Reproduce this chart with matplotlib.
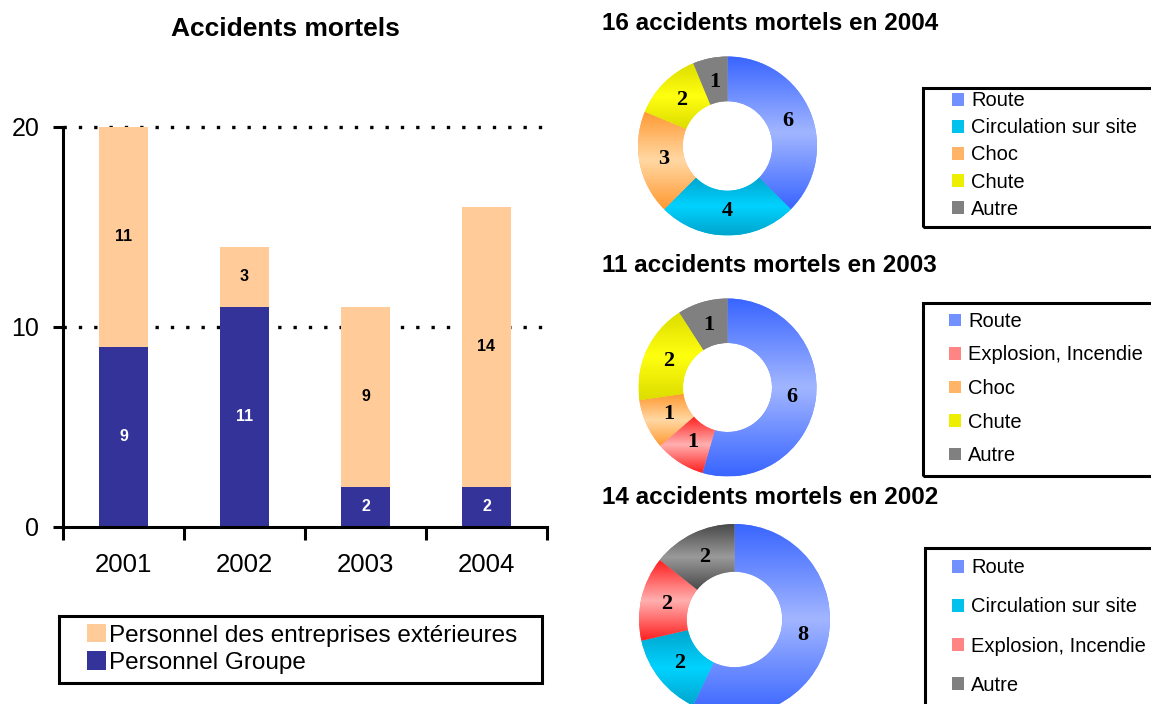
import numpy as np
import matplotlib
matplotlib.use("Agg")
import matplotlib.pyplot as plt
from matplotlib.patches import Rectangle
from matplotlib.colors import LinearSegmentedColormap

plt.rcParams.update({
    "font.family": "Liberation Sans",
})

W, H = 1151, 704

# Bar chart data
years = ["2001", "2002", "2003", "2004"]
groupe = [9, 11, 2, 2]
exterieur = [11, 3, 9, 14]
bar_names = ["Personnel des entreprises extérieures", "Personnel Groupe"]

# Donut data (clockwise from the top)
cat_2004 = ["Route", "Circulation sur site", "Choc", "Chute", "Autre"]
val_2004 = [6, 4, 3, 2, 1]
cat_2003 = ["Route", "Explosion, Incendie", "Choc", "Chute", "Autre"]
val_2003 = [6, 1, 1, 2, 1]
cat_2002 = ["Route", "Circulation sur site", "Explosion, Incendie", "Autre"]
val_2002 = [8, 2, 2, 2]

colors = {
    "Route": "#7390FF",
    "Circulation sur site": "#00C2EC",
    "Choc": "#FFB468",
    "Chute": "#EEEE00",
    "Autre": "#808080",
    "Explosion, Incendie": "#FF8585",
}
# (edge, middle) colours of the vertical gradient in each slice
gradients = {
    "Route": ("#3A66FF", "#A2B6FF"),
    "Circulation sur site": ("#00A6CE", "#00D2FF"),
    "Choc": ("#FF9A33", "#FFD8A4"),
    "Chute": ("#DDDD00", "#FFFF10"),
    "Autre": ("#808080", "#808080"),
    "Explosion, Incendie": ("#FF2020", "#FFB0B0"),
}


def fx(x):
    return x / W


def fy(y):
    return 1 - y / H


fig = plt.figure(figsize=(W / 100, H / 100), dpi=100)

# ---- stacked bars ----
ax = fig.add_axes([fx(63), fy(527), 484 / W, 400 / H])
x = np.arange(len(years))
b_grp = ax.bar(x, groupe, width=0.41, color="#333399", zorder=2)
b_ext = ax.bar(x, exterieur, bottom=groupe, width=0.41, color="#FFCC99", zorder=2)
ax.bar_label(b_grp, label_type="center", color="white", fontweight="bold", fontsize=11.5)
ax.bar_label(b_ext, label_type="center", color="black", fontweight="bold", fontsize=11.5)

ax.set_xlim(-0.5, 3.5)
ax.set_ylim(0, 20)
for s in ("top", "right"):
    ax.spines[s].set_visible(False)
for s in ("left", "bottom"):
    ax.spines[s].set_linewidth(2.2)

ax.set_yticks([0, 10, 20])
ax.tick_params(axis="y", direction="out", length=7, width=2.2, labelsize=18, pad=10)
ax.set_xticks(np.arange(-0.5, 4, 1))
ax.set_xticklabels([])
ax.tick_params(axis="x", which="major", direction="out", length=9, width=2.2)
ax.set_xticks(x, minor=True)
ax.set_xticklabels(years, minor=True)
ax.tick_params(axis="x", which="minor", length=0, labelsize=18.5, pad=19)

ax.set_axisbelow(True)
ax.yaxis.grid(True, linestyle=(0, (1, 3.6)), color="black", linewidth=2.4)
gls = ax.get_ygridlines()
gls[0].set_visible(False)
for gl in gls:
    gl.set_clip_on(False)

fig.text(fx(285.5), fy(29), "Accidents mortels", ha="center", va="center",
         fontsize=19, fontweight="bold")

fig.legend([b_ext, b_grp], bar_names, loc="center left",
           bbox_to_anchor=(fx(87), fy(649)), frameon=False, fontsize=17.5,
           handlelength=0.78, handleheight=0.78, handletextpad=0.12,
           labelspacing=0.2, borderpad=0, borderaxespad=0)
fig.add_artist(Rectangle((fx(59), fy(683)), 483 / W, 67 / H, transform=fig.transFigure,
                         fill=False, lw=2.2, ec="black"))


# ---- donuts ----
def donut(cx, cy, r, cats, vals, title, title_y, leg_x, leg_y, spacing, box, override=None):
    grads = dict(gradients)
    if override:
        grads.update(override)
    m = 1.03
    a = fig.add_axes([fx(cx - m * r), fy(cy + m * r), 2 * m * r / W, 2 * m * r / H])
    wedges, _ = a.pie(vals, colors=[colors[c] for c in cats], startangle=90,
                      counterclock=False, wedgeprops=dict(width=0.5, edgecolor="none"))
    ramp = np.linspace(0, 1, 64).reshape(-1, 1)
    for w, c in zip(wedges, cats):
        edge, mid = grads[c]
        cmap = LinearSegmentedColormap.from_list(c, [edge, mid, edge])
        bb = w.get_path().get_extents()
        im = a.imshow(ramp, cmap=cmap, extent=(bb.x0, bb.x1, bb.y0, bb.y1),
                      origin="lower", aspect="auto", interpolation="bilinear", zorder=1.5)
        im.set_clip_path(w)
    a.set_xlim(-m, m)
    a.set_ylim(-m, m)
    a.set_aspect("equal")
    a.axis("off")
    for w, v in zip(wedges, vals):
        ang = np.deg2rad((w.theta1 + w.theta2) / 2)
        a.text(0.73 * np.cos(ang), 0.73 * np.sin(ang), str(v), ha="center", va="center",
               fontsize=16, fontweight="bold", family="Liberation Serif", zorder=3)
    fig.text(fx(602), fy(title_y), title, ha="left", va="center",
             fontsize=17.5, fontweight="bold")
    fig.legend(wedges, cats, loc="center left", bbox_to_anchor=(fx(leg_x), fy(leg_y)),
               frameon=False, fontsize=14.5, handlelength=0.6, handleheight=0.6,
               handletextpad=0.35, labelspacing=spacing, borderpad=0, borderaxespad=0)
    bx0, by0, bx1, by1 = box
    fig.add_artist(Rectangle((fx(bx0), fy(by1)), (bx1 - bx0) / W, (by1 - by0) / H,
                             transform=fig.transFigure, fill=False, lw=2.2, ec="black"))


donut(727.5, 146, 89.5, cat_2004, val_2004, "16 accidents mortels en 2004", 24,
      952, 155, 0.4, (923, 88, 1180, 227))
donut(727.5, 387.5, 89, cat_2003, val_2003, "11 accidents mortels en 2003", 265,
      949, 388.5, 0.72, (923, 303, 1180, 476))
donut(734.5, 619.5, 95.5, cat_2002, val_2002, "14 accidents mortels en 2002", 498,
      952, 626.5, 1.0, (925, 548, 1180, 730),
      override={"Autre": ("#4A4A4A", "#9A9A9A")})

fig.savefig("out.png", dpi=100)
